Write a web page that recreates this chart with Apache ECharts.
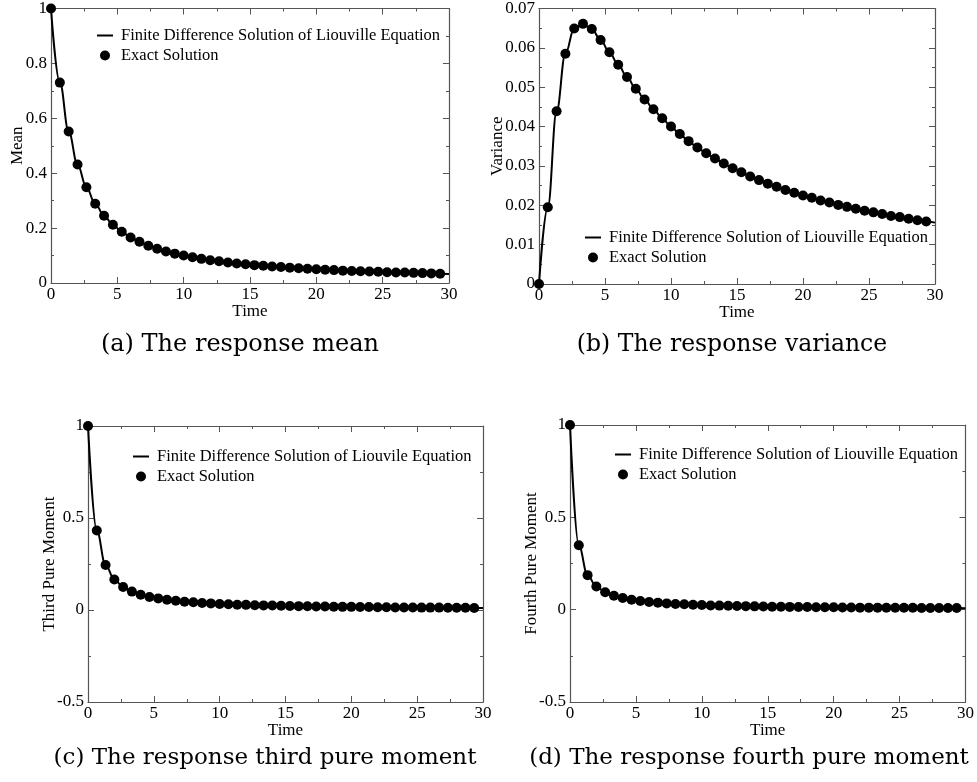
<!DOCTYPE html>
<html>
<head>
<meta charset="utf-8">
<script src="https://cdn.jsdelivr.net/npm/echarts@6/dist/echarts.min.js"></script>
<style>
html,body{margin:0;padding:0;background:#fff;}
#chart{width:977px;height:782px;}
</style>
</head>
<body>
<div id="chart"></div>
<script>
// ---- data ----
const times = [0,0.667,1.333,2,2.667,3.333,4,4.667,5.333,6,6.667,7.333,8,8.667,9.333,10,10.667,11.333,12,12.667,13.333,14,14.667,15.333,16,16.667,17.333,18,18.667,19.333,20,20.667,21.333,22,22.667,23.333,24,24.667,25.333,26,26.667,27.333,28,28.667,29.333];
const lineEndTime = 30;

const meanDots = [1,0.730,0.552,0.432,0.349,0.289,0.245,0.212,0.187,0.166,0.150,0.136,0.125,0.115,0.107,0.100,0.094,0.088,0.083,0.079,0.075,0.071,0.068,0.065,0.063,0.060,0.058,0.056,0.054,0.052,0.050,0.048,0.047,0.045,0.044,0.043,0.042,0.041,0.039,0.038,0.038,0.037,0.036,0.035,0.034];
const meanEnd = 0.033;

const varianceDots = [0,0.0195,0.0439,0.0585,0.0649,0.0661,0.0648,0.0620,0.0589,0.0557,0.0526,0.0496,0.0469,0.0444,0.0421,0.0400,0.0381,0.0363,0.0347,0.0332,0.0319,0.0306,0.0294,0.0284,0.0273,0.0264,0.0255,0.0247,0.0239,0.0232,0.0225,0.0219,0.0212,0.0207,0.0201,0.0196,0.0191,0.0186,0.0182,0.0178,0.0173,0.0170,0.0166,0.0162,0.0159];
const varianceEnd = 0.0156;

const thirdDots = [1,0.432,0.245,0.166,0.125,0.100,0.083,0.071,0.063,0.056,0.050,0.045,0.042,0.038,0.036,0.033,0.031,0.029,0.028,0.026,0.025,0.024,0.023,0.022,0.021,0.020,0.019,0.019,0.018,0.017,0.017,0.016,0.016,0.015,0.015,0.014,0.014,0.014,0.013,0.013,0.013,0.012,0.012,0.012,0.011];
const thirdEnd = 0.011;

const fourthDots = [1,0.349,0.187,0.125,0.094,0.075,0.063,0.054,0.047,0.042,0.038,0.034,0.031,0.029,0.027,0.025,0.023,0.022,0.021,0.020,0.019,0.018,0.017,0.016,0.016,0.015,0.014,0.014,0.013,0.013,0.013,0.012,0.012,0.011,0.011,0.011,0.010,0.010,0.010,0.010,0.009,0.009,0.009,0.009,0.009];
const fourthEnd = 0.008;

const xTicks = {min:0, max:30, interval:5};
const yAxisNames = ['Mean','Variance','Third Pure Moment','Fourth Pure Moment'];
const xAxisName = 'Time';
const lineNames = ['Finite Difference Solution of Liouville Equation','Finite Difference Solution of Liouville Equation','Finite Difference Solution of Liouvile Equation','Finite Difference Solution of Liouville Equation'];
const dotName = 'Exact Solution';
const captions = ['(a) The response mean','(b) The response variance','(c) The response third pure moment','(d) The response fourth pure moment'];

// ---- layout ----
const FONT = 'Liberation Serif';
const AX = '#555';
const LINE_ICON = 'path://M0,4H16V6H0Z M0,0H0.01V0.01H0Z M15.99,9.99H16V10H15.99Z';
const panels = [
  {grid:{left:51,top:4,width:398,height:279}, y:{min:0,max:1,interval:0.2}, nameGap:25, legend:{left:97,top:27}, cap:{x:240,y:345}, capSize:24, dots:meanDots, end:meanEnd},
  {grid:{left:539,top:7,width:396,height:277}, y:{min:0,max:0.07,interval:0.01}, nameGap:33, legend:{left:585,top:229}, cap:{x:732,y:345}, capSize:23.5, dots:varianceDots, end:varianceEnd},
  {grid:{left:88,top:426,width:395,height:276}, y:{min:-0.5,max:1,interval:0.5}, nameGap:30, legend:{left:133,top:448}, cap:{x:265,y:758}, capSize:23, dots:thirdDots, end:thirdEnd},
  {grid:{left:570,top:425,width:398,height:277}, y:{min:-0.5,max:1,interval:0.5}, nameGap:30, legend:{left:615,top:446}, cap:{x:749,y:758}, capSize:23, dots:fourthDots, end:fourthEnd}
];

const grid=[], xAxis=[], yAxis=[], series=[], legend=[], graphic=[];
panels.forEach((p,i)=>{
  grid.push(Object.assign({containLabel:false}, p.grid));
  const common = () => ({
    axisLine:{show:true,onZero:false,lineStyle:{color:AX,width:1.2}},
    axisTick:{show:true,inside:true,length:6,lineStyle:{color:AX,width:1}},
    minorTick:{show:true,splitNumber:2,length:3,lineStyle:{color:AX,width:1}},
    splitLine:{show:false}
  });
  xAxis.push(Object.assign({type:'value',gridIndex:i,position:'bottom',min:xTicks.min,max:xTicks.max,interval:xTicks.interval,
    name:xAxisName,nameLocation:'middle',nameGap:20,nameMoveOverlap:false,nameTextStyle:{fontFamily:FONT,fontSize:17,color:'#000'},
    axisLabel:{margin:3,fontFamily:FONT,fontSize:17,color:'#000'}}, common()));
  xAxis.push(Object.assign({type:'value',gridIndex:i,position:'top',min:xTicks.min,max:xTicks.max,interval:xTicks.interval,
    axisLabel:{show:false}}, common()));
  yAxis.push(Object.assign({type:'value',gridIndex:i,position:'left',min:p.y.min,max:p.y.max,interval:p.y.interval,
    name:yAxisNames[i],nameLocation:'middle',nameGap:p.nameGap,nameMoveOverlap:false,nameTextStyle:{fontFamily:FONT,fontSize:17,color:'#000'},
    axisLabel:{margin:4,fontFamily:FONT,fontSize:17,color:'#000'}}, common()));
  yAxis.push(Object.assign({type:'value',gridIndex:i,position:'right',min:p.y.min,max:p.y.max,interval:p.y.interval,
    axisLabel:{show:false}}, common()));
  const lineData = times.map((t,k)=>[t,p.dots[k]]).concat([[lineEndTime,p.end]]);
  series.push({type:'line',name:lineNames[i],xAxisIndex:2*i,yAxisIndex:2*i,data:lineData,
    symbol:'none',smooth:0.4,smoothMonotone:'x',lineStyle:{color:'#000',width:2},itemStyle:{color:'#000'},z:2,animation:false});
  series.push({type:'scatter',name:dotName,xAxisIndex:2*i,yAxisIndex:2*i,data:times.map((t,k)=>[t,p.dots[k]]),
    symbol:'circle',symbolSize:10,itemStyle:{color:'#000',opacity:1},z:3,animation:false});
  legend.push({left:p.legend.left,top:p.legend.top,padding:0,orient:'vertical',itemGap:3,itemWidth:16,itemHeight:10,
    selectedMode:false,
    textStyle:{fontFamily:FONT,fontSize:16.5,color:'#000',lineHeight:16,padding:[0,0,0,3]},
    data:[{name:lineNames[i],icon:LINE_ICON,itemStyle:{color:'#000'}},{name:dotName,icon:'circle',itemStyle:{color:'#000',opacity:1}}]});
  graphic.push({type:'text',x:p.cap.x,y:p.cap.y,style:{text:captions[i],fontFamily:'DejaVu Serif',fontSize:p.capSize,fill:'#000',
    textAlign:'center',textVerticalAlign:'middle'}});
});

const chart = echarts.init(document.getElementById('chart'));
chart.setOption({animation:false,backgroundColor:'#fff',grid,xAxis,yAxis,series,legend,graphic});
</script>
</body>
</html>
